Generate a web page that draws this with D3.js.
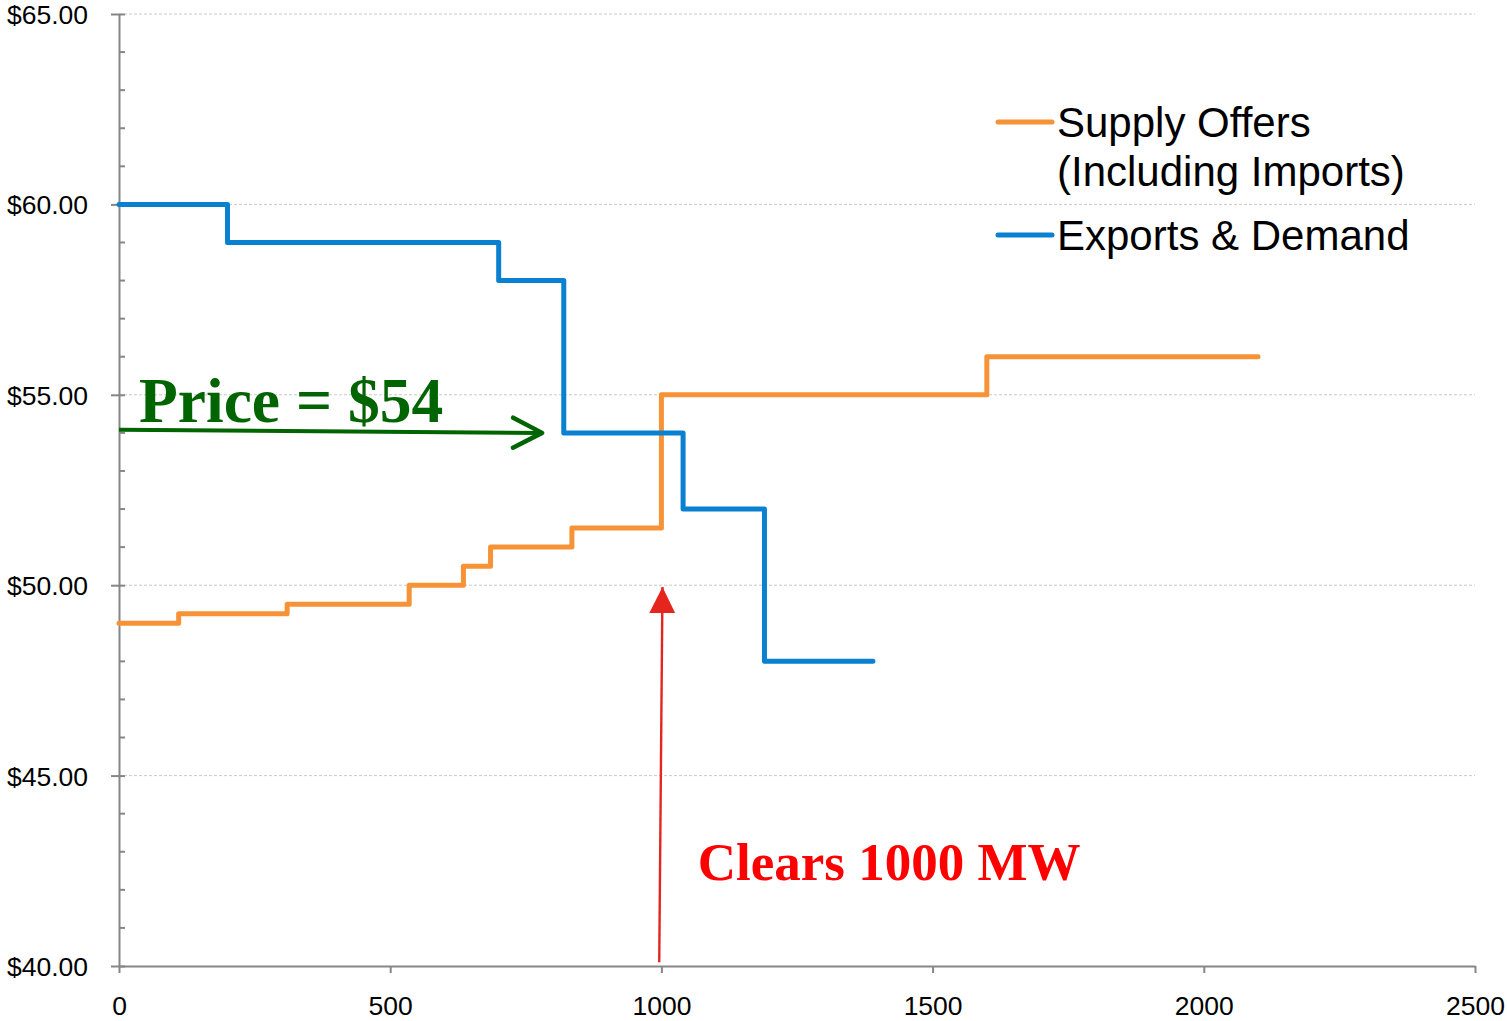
<html>
<head>
    <script src="https://cdn.jsdelivr.net/npm/d3@7"></script>
    <style>
        body { margin: 0; background: white; }
        svg { display: block; }
        .axis text { font-family: "Liberation Sans", Arial, sans-serif; font-size: 26.5px; fill: #000; }
    </style>
</head>
<body>
<svg id="chart"></svg>
<script>
    // supply offers (including imports): MW where each step starts, price of that step
    const supplyMW    = [0, 110, 310, 535, 635, 685, 835, 1000, 1600, 2100];
    const supplyPrice = [49, 49.25, 49.5, 50, 50.5, 51, 51.5, 55, 56, 56];

    // exports & demand
    const demandMW    = [0, 200, 700, 820, 1040, 1190, 1390];
    const demandPrice = [60, 59, 58, 54, 52, 48, 48];

    const yTicks = [40, 45, 50, 55, 60, 65];
    const xTicks = [0, 500, 1000, 1500, 2000, 2500];
    const seriesNames = ["Supply Offers|(Including Imports)", "Exports & Demand"];
    const seriesColors = ["#f79236", "#0a80d0"];

    let width = 1507, height = 1021;
    let margin = { top: 14, right: 32, bottom: 55, left: 119 };
    let bodyWidth = width - margin.left - margin.right;
    let bodyHeight = height - margin.top - margin.bottom;

    let svg = d3.select("#chart").attr("width", width).attr("height", height);
    let g = svg.append("g").attr("transform", `translate(${margin.left},${margin.top})`);

    let x = d3.scaleLinear().domain([0, 2500]).range([0, bodyWidth]);
    let y = d3.scaleLinear().domain([40, 65]).range([bodyHeight, 0]);

    // gridlines
    g.selectAll(".grid").data(yTicks.slice(1)).enter().append("line")
        .attr("x1", 0).attr("x2", bodyWidth)
        .attr("y1", d => y(d)).attr("y2", d => y(d))
        .attr("stroke", "#c9c9c9").attr("stroke-width", 1)
        .attr("stroke-dasharray", "3,2");

    // minor y ticks every $1
    g.selectAll(".minor").data(d3.range(41, 65).filter(v => v % 5 != 0)).enter().append("line")
        .attr("x1", 0).attr("x2", 6)
        .attr("y1", d => y(d)).attr("y2", d => y(d))
        .attr("stroke", "#868686").attr("stroke-width", 2);

    // axes
    let axisY = d3.axisLeft(y).tickValues(yTicks).tickFormat(d => "$" + d3.format(".2f")(d))
        .tickSizeInner(8).tickSizeOuter(0).tickPadding(23);
    let gy = g.append("g").attr("class", "axis").call(axisY);
    gy.selectAll("line").attr("x2", -8).attr("x1", 6);

    let axisX = d3.axisBottom(x).tickValues(xTicks).tickFormat(d3.format("d"))
        .tickSizeInner(7).tickSizeOuter(0).tickPadding(23);
    let gx = g.append("g").attr("class", "axis").attr("transform", `translate(0,${bodyHeight})`).call(axisX);

    [gx, gy].forEach(a => {
        a.selectAll("path, line").attr("stroke", "#868686").attr("stroke-width", 2);
        a.selectAll("text").attr("fill", "#000");
    });
    gy.selectAll("text").attr("dy", "0.36em");

    // step lines
    let stepLine = d3.line().x(d => x(d[0])).y(d => y(d[1])).curve(d3.curveStepAfter);
    let supply = d3.zip(supplyMW, supplyPrice);
    let demand = d3.zip(demandMW, demandPrice);

    g.append("path").datum(supply).attr("d", stepLine)
        .attr("fill", "none").attr("stroke", seriesColors[0]).attr("stroke-width", 5)
        .attr("stroke-linejoin", "round").attr("stroke-linecap", "round");
    g.append("path").datum(demand).attr("d", stepLine)
        .attr("fill", "none").attr("stroke", seriesColors[1]).attr("stroke-width", 5)
        .attr("stroke-linejoin", "round").attr("stroke-linecap", "round");

    // legend
    let legend = g.selectAll(".legend").data(seriesNames).enter().append("g")
        .attr("class", "legend")
        .attr("transform", (d, i) => `translate(${879},${i == 0 ? 108 : 221})`);
    legend.append("line")
        .attr("x1", 0).attr("x2", 54).attr("y1", 0).attr("y2", 0)
        .attr("stroke", (d, i) => seriesColors[i]).attr("stroke-width", 5)
        .attr("stroke-linecap", "round");
    legend.each(function (d) {
        let lines = d.split("|");
        d3.select(this).selectAll("text").data(lines).enter().append("text")
            .attr("x", 59).attr("y", (t, j) => 15 + j * 49)
            .style("font-family", "'Liberation Sans', Arial, sans-serif")
            .style("font-size", "42px")
            .text(t => t);
    });

    // annotations
    let defs = svg.append("defs");
    defs.append("marker").attr("id", "openArrow")
        .attr("markerUnits", "userSpaceOnUse").attr("markerWidth", 40).attr("markerHeight", 40)
        .attr("refX", 32).attr("refY", 20).attr("orient", "auto")
        .append("path").attr("d", "M3,5 L32,20 L3,35")
        .attr("fill", "none").attr("stroke", "#006400").attr("stroke-width", 4.5)
        .attr("stroke-linecap", "round").attr("stroke-linejoin", "round");
    defs.append("marker").attr("id", "fillArrow")
        .attr("markerUnits", "userSpaceOnUse").attr("markerWidth", 30).attr("markerHeight", 30)
        .attr("refX", 26).attr("refY", 13).attr("orient", "auto")
        .append("path").attr("d", "M0,0 L26,13 L0,26 Z").attr("fill", "#e5261f");

    g.append("line")
        .attr("x1", x(0)).attr("y1", y(54.08)).attr("x2", x(780)).attr("y2", y(54))
        .attr("stroke", "#006400").attr("stroke-width", 4)
        .attr("marker-end", "url(#openArrow)");
    g.append("text")
        .attr("x", x(37)).attr("y", y(54.29))
        .style("font-family", "'Liberation Serif', 'Times New Roman', serif")
        .style("font-weight", "bold").style("font-size", "63.5px")
        .attr("fill", "#006400")
        .text("Price = $54");

    g.append("line")
        .attr("x1", x(996)).attr("y1", y(40.1)).attr("x2", x(1002)).attr("y2", y(49.95))
        .attr("stroke", "#e5261f").attr("stroke-width", 2.4)
        .attr("marker-end", "url(#fillArrow)");
    g.append("text")
        .attr("x", x(1067)).attr("y", y(42.26))
        .style("font-family", "'Liberation Serif', 'Times New Roman', serif")
        .style("font-weight", "bold").style("font-size", "53px")
        .attr("fill", "#ff0000")
        .text("Clears 1000 MW");
</script>
</body>
</html>
